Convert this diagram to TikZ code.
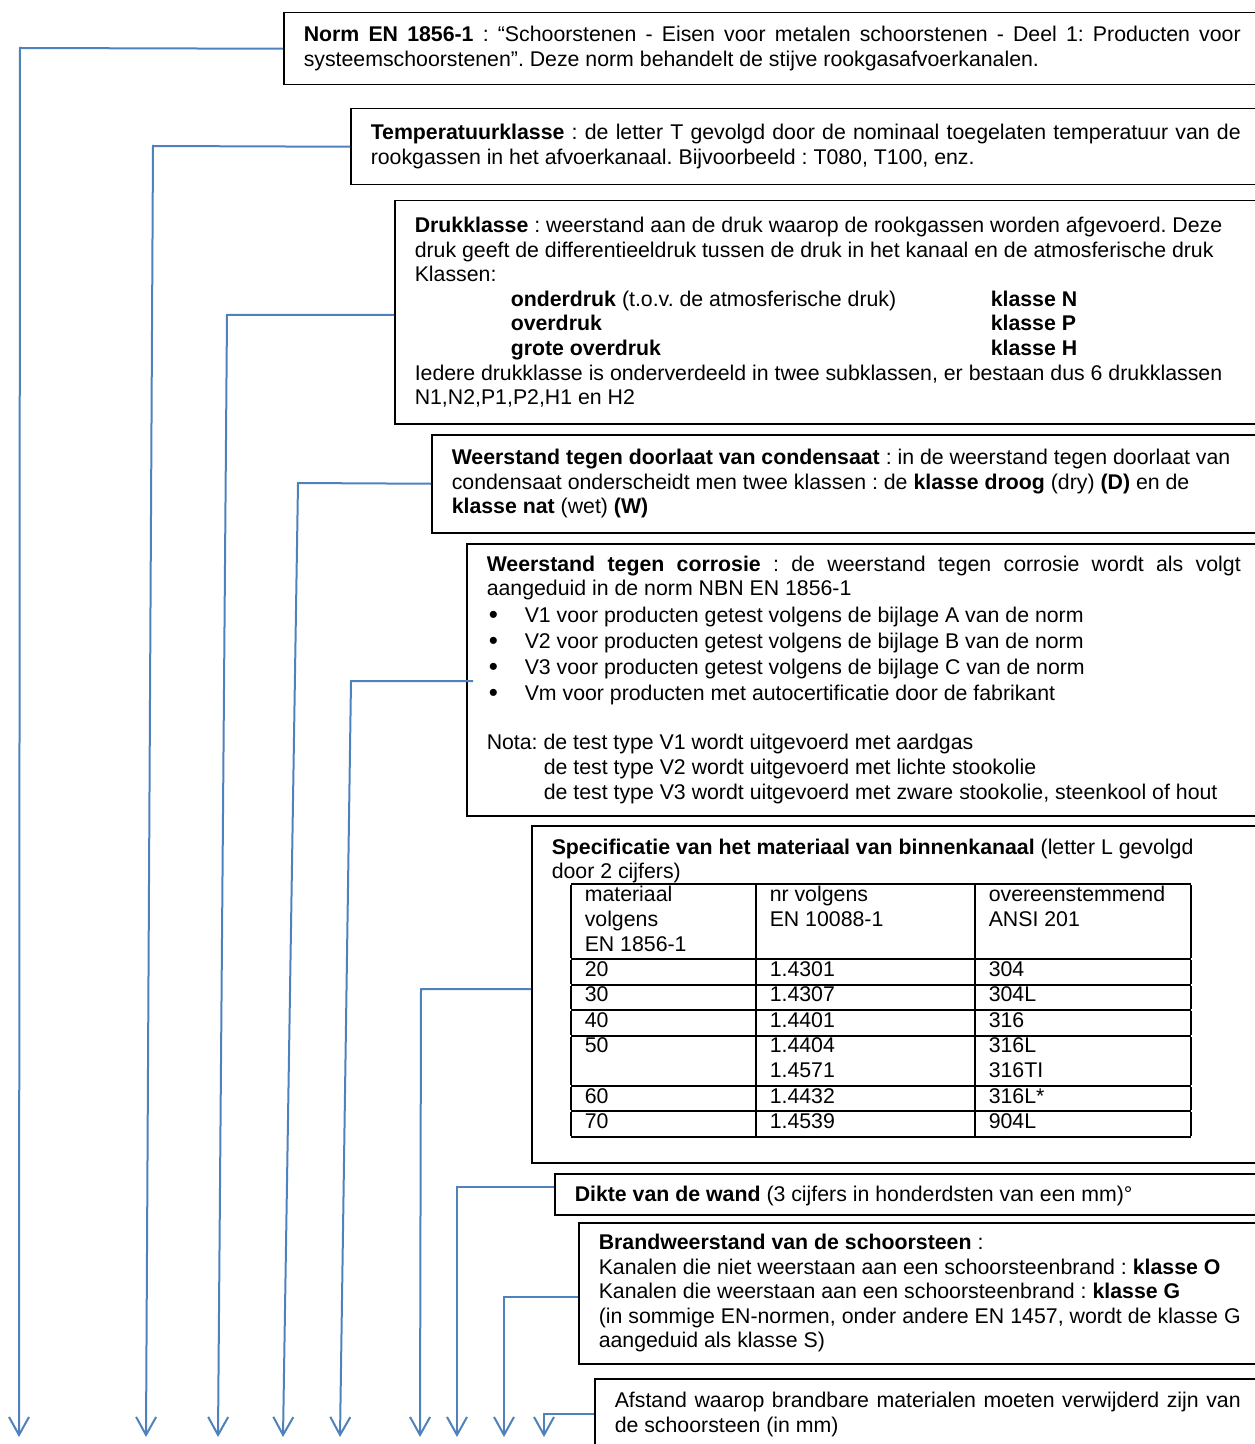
\documentclass[tikz,border=0pt]{standalone}
\usepackage{fontspec}
\setmainfont{Liberation Sans}
\usetikzlibrary{arrows.meta}
\definecolor{linkblue}{RGB}{79,129,189}
\renewcommand{\arraystretch}{0.955}
\frenchspacing
\newcommand{\bigbullet}{\hspace*{1pt}\makebox[18pt][l]{\raisebox{-0.5pt}{\fontsize{13}{12}\selectfont\textbullet}}}
\tikzset{
  infobox/.style={draw=black, line width=0.75pt, anchor=north west, align=justify,
    inner xsep=10pt, inner ysep=3pt, font=\fontsize{10.65}{12.3}\selectfont},
  conn/.style={linkblue, line width=1pt, -{Straight Barb[length=9pt,width=10pt]}},
}
\begin{document}
\begin{tikzpicture}[x=0.5pt,y=-0.5pt]
\useasboundingbox (0,0) rectangle (1254,1444);

% the boxes
\node[infobox, text width=468.5pt, minimum height=36pt] (norm) at (283,12)
  {\textbf{Norm EN 1856-1} : “Schoorstenen - Eisen voor metalen schoorstenen - Deel 1: Producten voor\linebreak
   systeemschoorstenen”. Deze norm behandelt de stijve rookgasafvoerkanalen.};
\node[infobox, text width=435pt, minimum height=38pt] (temp) at (350,108)
  {\textbf{Temperatuurklasse} : de letter T gevolgd door de nominaal toegelaten temperatuur van de\linebreak
   rookgassen in het afvoerkanaal. Bijvoorbeeld : T080, T100, enz.};
\node[infobox, text width=413pt, minimum height=111.5pt] (druk) at (394,200)
  {\textbf{Drukklasse} : weerstand aan de druk waarop de rookgassen worden afgevoerd. Deze\\
   druk geeft de differentieeldruk tussen de druk in het kanaal en de atmosferische druk\\
   Klassen:\\
   \hspace*{48pt}\makebox[240pt][l]{\textbf{onderdruk} (t.o.v. de atmosferische druk)}\textbf{klasse N}\\
   \hspace*{48pt}\makebox[240pt][l]{\textbf{overdruk}}\textbf{klasse P}\\
   \hspace*{48pt}\makebox[240pt][l]{\textbf{grote overdruk}}\textbf{klasse H}\\
   Iedere drukklasse is onderverdeeld in twee subklassen, er bestaan dus 6 drukklassen\\
   N1,N2,P1,P2,H1 en H2};
\node[infobox, text width=394.5pt, minimum height=49pt] (cond) at (431,434)
  {\textbf{Weerstand tegen doorlaat van condensaat} : in de weerstand tegen doorlaat van\\
   condensaat onderscheidt men twee klassen : de \textbf{klasse droog} (dry) \textbf{(D)} en de\\
   \textbf{klasse nat} (wet) \textbf{(W)}};
\node[infobox, text width=377pt, minimum height=136pt] (corr) at (466,543)
  {\textbf{Weerstand tegen corrosie} : de weerstand tegen corrosie wordt als volgt\linebreak
   aangeduid in de norm NBN EN 1856-1\\[0.8pt]
   \bigbullet V1 voor producten getest volgens de bijlage A van de norm\\[0.8pt]
   \bigbullet V2 voor producten getest volgens de bijlage B van de norm\\[0.8pt]
   \bigbullet V3 voor producten getest volgens de bijlage C van de norm\\[0.8pt]
   \bigbullet Vm voor producten met autocertificatie door de fabrikant\\[12.3pt]
   Nota: de test type V1 wordt uitgevoerd met aardgas\\
   \hspace*{28.5pt}de test type V2 wordt uitgevoerd met lichte stookolie\\
   \hspace*{28.5pt}de test type V3 wordt uitgevoerd met zware stookolie, steenkool of hout};
\node[infobox, text width=344.5pt, minimum height=168.5pt] (spec) at (531,825)
  {\textbf{Specificatie van het materiaal van binnenkanaal} (letter L gevolgd\\
   door 2 cijfers)\\[-1pt]
   \setlength{\tabcolsep}{7pt}\setlength{\arrayrulewidth}{1pt}%
   \hspace*{9.5pt}\begin{tabular}{|p{78.5pt}|p{95.5pt}|p{94pt}|}\hline
   materiaal\newline volgens\newline EN 1856-1 & nr volgens\newline EN 10088-1 & overeenstemmend\newline ANSI 201\\ \hline
   20 & 1.4301 & 304\\ \hline
   30 & 1.4307 & 304L\\ \hline
   40 & 1.4401 & 316\\ \hline
   50 & 1.4404\newline 1.4571 & 316L\newline 316TI\\ \hline
   60 & 1.4432 & 316L*\\ \hline
   70 & 1.4539 & 904L\\ \hline
   \end{tabular}\par\vspace{5pt}\noindent\mbox{}};
\node[infobox, text width=333pt, minimum height=20.5pt, text depth=0pt] (dikte) at (554,1173)
  {\textbf{Dikte van de wand} (3 cijfers in honderdsten van een mm)°};
\node[infobox, text width=321pt, minimum height=70.5pt] (brand) at (578,1222)
  {\textbf{Brandweerstand van de schoorsteen} :\\
   Kanalen die niet weerstaan aan een schoorsteenbrand : \textbf{klasse O}\\
   Kanalen die weerstaan aan een schoorsteenbrand : \textbf{klasse G}\\
   (in sommige EN-normen, onder andere EN 1457, wordt de klasse G\linebreak
   aangeduid als klasse S)};
\node[infobox, text width=313pt, minimum height=36pt] (afstand) at (594,1378)
  {Afstand waarop brandbare materialen moeten verwijderd zijn van\linebreak
   de schoorsteen (in mm)};

% bends and ends of the connectors
\coordinate (b1) at (20,48);   \coordinate (e1) at (19,1437);
\coordinate (b2) at (153,146); \coordinate (e2) at (146,1437);
\coordinate (b3) at (227,315); \coordinate (e3) at (218,1437);
\coordinate (b4) at (298,483); \coordinate (e4) at (283,1437);
\coordinate (b5) at (351,681); \coordinate (e5) at (340,1437);
\coordinate (b6) at (421,989); \coordinate (e6) at (420,1437);
\coordinate (b7) at (457,1187); \coordinate (e7) at (457,1437);
\coordinate (b8) at (504,1297); \coordinate (e8) at (504,1437);
\coordinate (b9) at (544,1414); \coordinate (e9) at (544,1437);
\coordinate[xshift=3.5pt] (s5) at (corr.west |- b5);

\draw[conn] (norm.west) -- (b1) -- (e1);
\draw[conn] (temp.west) -- (b2) -- (e2);
\draw[conn] (druk.west |- b3) -- (b3) -- (e3);
\draw[conn] (cond.west) -- (b4) -- (e4);
\draw[conn] (s5) -- (b5) -- (e5);
\draw[conn] (spec.west |- b6) -- (b6) -- (e6);
\draw[conn] (dikte.west |- b7) -- (b7) -- (e7);
\draw[conn] (brand.west |- b8) -- (b8) -- (e8);
\draw[conn] (afstand.west |- b9) -- (b9) -- (e9);
\end{tikzpicture}
\end{document}
